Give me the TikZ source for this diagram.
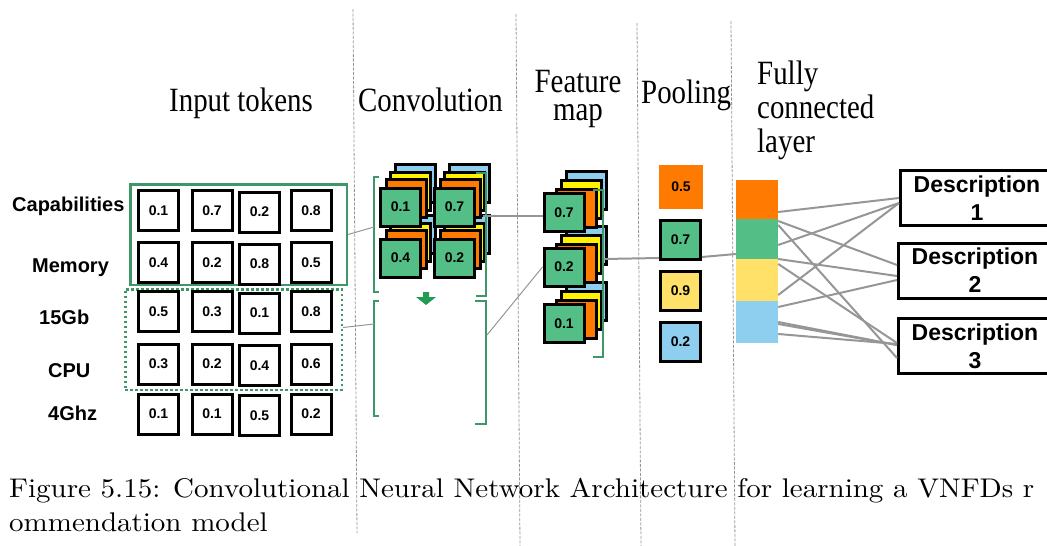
\documentclass[tikz,border=0pt]{standalone}
\usepackage{fontspec}
\usepackage{graphicx}
\newfontfamily\labelfont{Liberation Sans}
\newfontfamily\headfont{Liberation Serif}[FakeStretch=0.85]
\definecolor{cellgreen}{RGB}{83,190,133}
\definecolor{corange}{RGB}{255,122,0}
\definecolor{cyellow}{RGB}{255,243,0}
\definecolor{cblue}{RGB}{142,207,240}
\definecolor{pyellow}{RGB}{255,225,105}
\definecolor{framegreen}{RGB}{62,150,105}
\definecolor{arrowgreen}{RGB}{35,155,85}
\definecolor{linkgray}{RGB}{150,150,150}
\tikzset{
  heading/.style={font=\headfont\fontsize{34}{34}\selectfont, inner sep=0pt},
  rowlabel/.style={font=\labelfont\bfseries\fontsize{20}{24}\selectfont, inner sep=0pt, anchor=base west},
  cell/.style={draw, line width=3pt, inner sep=0pt, minimum width=40pt, minimum height=40pt,
    font=\labelfont\bfseries\fontsize{14}{16}\selectfont},
  stackcell/.style={cell, minimum height=38pt},
  fcseg/.style={inner sep=0pt, minimum width=42pt},
  desc/.style={draw, line width=3pt, inner sep=0pt, minimum width=153pt, minimum height=55pt,
    align=center, font=\labelfont\bfseries\fontsize{23}{28}\selectfont},
  frame/.style={draw=framegreen, line width=2.5pt, inner sep=0pt},
  bracket/.style={draw=framegreen, line width=1.3pt},
  divider/.style={draw=linkgray, line width=0.8pt, dash pattern=on 3pt off 1.5pt},
  link/.style={draw=linkgray, line width=2pt},
  thinlink/.style={draw=linkgray, line width=1pt},
  capline/.style={anchor=base west, inner sep=0pt, font=\fontsize{10}{12}\selectfont}
}
\begin{document}
\begin{tikzpicture}[x=1pt, y=-1pt]
\useasboundingbox (0,0) rectangle (1047,546);

% column dividers
\draw[divider] (353,9) -- (357,533);
\draw[divider] (516,14) -- (520,546);
\draw[divider] (637,23) -- (641,546);
\draw[divider] (731,21) -- (735,546);

% headings
\node[heading, anchor=base west] (hin) at (169,111) {Input tokens};
\node[heading, anchor=base west] (hconv) at (358,111) {Convolution};
\node[heading, align=center, anchor=base, font=\headfont\fontsize{34}{28}\selectfont] (hfeat) at (578,120) {Feature\\map};
\node[heading, anchor=base west] (hpool) at (641,103) {Pooling};
\node[heading, align=left, anchor=base west] (hfc) at (757,152) {Fully\\connected\\layer};

% input tokens
\node[rowlabel] (lcap) at (12,211) {Capabilities};
\node[rowlabel] (lmem) at (32,272) {Memory};
\node[rowlabel] (lgb) at (39,324) {15Gb};
\node[rowlabel] (lcpu) at (48,377) {CPU};
\node[rowlabel] (lghz) at (48,420) {4Ghz};
\node[frame, minimum width=216.5pt, minimum height=100.5pt] (fr1) at (238.5,234.5) {};
\node[frame, dash pattern=on 2.5pt off 2.5pt, minimum width=216.5pt, minimum height=100.5pt] (fr2) at (233.5,339.5) {};
\node[cell] (i11) at (158.5,210.5) {0.1};
\node[cell] (i12) at (212,210.5) {0.7};
\node[cell] (i13) at (259.5,212) {0.2};
\node[cell] (i14) at (311,210.5) {0.8};
\node[cell] (i21) at (158.5,262.5) {0.4};
\node[cell] (i22) at (212,262.5) {0.2};
\node[cell] (i23) at (259.5,264) {0.8};
\node[cell] (i24) at (311,262.5) {0.5};
\node[cell] (i31) at (158.5,311.5) {0.5};
\node[cell] (i32) at (212,311.5) {0.3};
\node[cell] (i33) at (259.5,313) {0.1};
\node[cell] (i34) at (311,311.5) {0.8};
\node[cell] (i41) at (158.5,364) {0.3};
\node[cell] (i42) at (212,364) {0.2};
\node[cell] (i43) at (259.5,365.5) {0.4};
\node[cell] (i44) at (311,364) {0.6};
\node[cell] (i51) at (158.5,414) {0.1};
\node[cell] (i52) at (212,414) {0.1};
\node[cell] (i53) at (259.5,415.5) {0.5};
\node[cell] (i54) at (311,414) {0.2};

% convolution
\node[stackcell, fill=cblue] (cb1) at (415.5,183) {};
\node[stackcell, fill=cblue] (cb2) at (469.5,183) {};
\node[stackcell, fill=cblue] (cb3) at (415.5,234) {};
\node[stackcell, fill=cblue] (cb4) at (469.5,234) {};
\node[stackcell, fill=cyellow] (cy1) at (410.5,191) {};
\node[stackcell, fill=cyellow] (cy2) at (464.5,191) {};
\node[stackcell, fill=cyellow] (cy3) at (410.5,242) {};
\node[stackcell, fill=cyellow] (cy4) at (464.5,242) {};
\node[stackcell, fill=corange] (co1) at (406.5,198) {};
\node[stackcell, fill=corange] (co2) at (460.5,198) {};
\node[stackcell, fill=corange] (co3) at (406.5,249) {};
\node[stackcell, fill=corange] (co4) at (460.5,249) {};
\node[stackcell, fill=cellgreen] (c1) at (400.5,207) {0.1};
\node[stackcell, fill=cellgreen] (c2) at (454.5,207) {0.7};
\node[stackcell, fill=cellgreen] (c3) at (400.5,258) {0.4};
\node[stackcell, fill=cellgreen] (c4) at (454.5,258) {0.2};
\draw[bracket] (379,177) -- (374,177) -- (374,292) -- (379,292);
\draw[bracket] (476,173) -- (486,173) -- (486,296) -- (476,296);
\draw[bracket] (379,301) -- (374,301) -- (374,416) -- (379,416);
\draw[bracket] (475,301) -- (486,301) -- (486,424) -- (475,424);
\fill[arrowgreen] (423,292) -- (429,292) -- (429,297) -- (436,297) -- (426,305) -- (416,297) -- (423,297) -- cycle;
\coordinate (ulb) at (374,227);
\coordinate (llb) at (374,324);
\coordinate (urb) at (483,216);
\coordinate (lrb) at (487,335);

% feature map
\node[stackcell, fill=cblue] (fb1) at (586,190.5) {};
\node[stackcell, fill=cblue] (fb2) at (586,245) {};
\node[stackcell, fill=cblue] (fb3) at (586,301.5) {};
\node[stackcell, fill=cyellow] (fy1) at (581,199.5) {};
\node[stackcell, fill=cyellow] (fy2) at (581,254) {};
\node[stackcell, fill=cyellow] (fy3) at (581,310.5) {};
\node[stackcell, fill=corange] (fo1) at (576,208.5) {};
\node[stackcell, fill=corange] (fo2) at (576,263) {};
\node[stackcell, fill=corange] (fo3) at (576,319.5) {};
\node[stackcell, fill=cellgreen] (f1) at (564,212.5) {0.7};
\node[stackcell, fill=cellgreen] (f2) at (564,267) {0.2};
\node[stackcell, fill=cellgreen] (f3) at (564,323.5) {0.1};
\draw[bracket] (593,190) -- (603,190) -- (603,357) -- (593,357);
\coordinate (fmb) at (604,259);

% pooling
\node[cell, draw=none, fill=corange, minimum width=44pt, minimum height=44pt] (p1) at (681,187) {0.5};
\node[cell, fill=cellgreen, minimum height=39pt] (p2) at (680.5,240) {0.7};
\node[cell, fill=pyellow, minimum height=39pt] (p3) at (680.5,291) {0.9};
\node[cell, fill=cblue, minimum height=39pt] (p4) at (680.5,342) {0.2};

% fully connected layer
\node[fcseg, fill=corange, minimum height=39pt] (fco) at (757,199.5) {};
\node[fcseg, fill=cellgreen, minimum height=40pt] (fcg) at (757,239) {};
\node[fcseg, fill=pyellow, minimum height=42pt] (fcy) at (757,280) {};
\node[fcseg, fill=cblue, minimum height=42pt] (fcb) at (757,322) {};

% outputs
\node[desc] (d1) at (977,198) {Description\\1};
\node[desc] (d2) at (975,270.5) {Description\\2};
\node[desc] (d3) at (975,346) {Description\\3};

% connectors
\draw[thinlink] (fr1.east) -- (ulb);
\draw[thinlink] ([yshift=12pt]fr2.east) -- (llb);
\draw[link] (urb) -- ([yshift=-3.5pt]f1.west);
\draw[thinlink] (lrb) -- (f2.west);
\draw[link] (fmb) -- ([yshift=-18pt]p2.west);
\draw[link] ([yshift=-17pt]p2.east) -- ([yshift=-15pt]fcg.west);
\draw[link] ([yshift=-12.5pt]fco.east) -- (d1.west);
\draw[link] ([yshift=18pt]fcg.east) -- ([yshift=5.5pt]d2.west);
\draw[link] ([yshift=14pt]fcg.east) -- ([yshift=-12pt]d3.west);
\draw[link] ([yshift=-6pt]fcg.east) -- ([yshift=-5pt]d1.west);
\draw[link] ([yshift=21pt]fcy.east) -- ([yshift=-5.5pt]d2.west);
\draw[link] ([yshift=16pt]fcy.east) -- ([yshift=3pt]d3.west);
\draw[link] ([yshift=-15pt]fcy.east) -- ([yshift=-5pt]d1.west);
\draw[link] ([yshift=15pt]fcb.east) -- ([yshift=-9.5pt]d2.west);
\draw[link] (fcb.east) -- ([yshift=1pt]d3.west);
\draw[link] ([yshift=-2pt]fcb.east) -- ([yshift=1pt]d3.west);
\draw[link] ([yshift=-12pt]fcb.east) -- ([yshift=2pt]d3.west);

% caption
\node[capline] (cap1) at (9,497) {\scalebox{2.9}[2.7]{Figure 5.15: Convolutional Neural Network Architecture for learning a VNFDs r}};
\node[capline] (cap2) at (9,531) {\scalebox{2.9}[2.7]{ommendation model}};
\end{tikzpicture}
\end{document}
